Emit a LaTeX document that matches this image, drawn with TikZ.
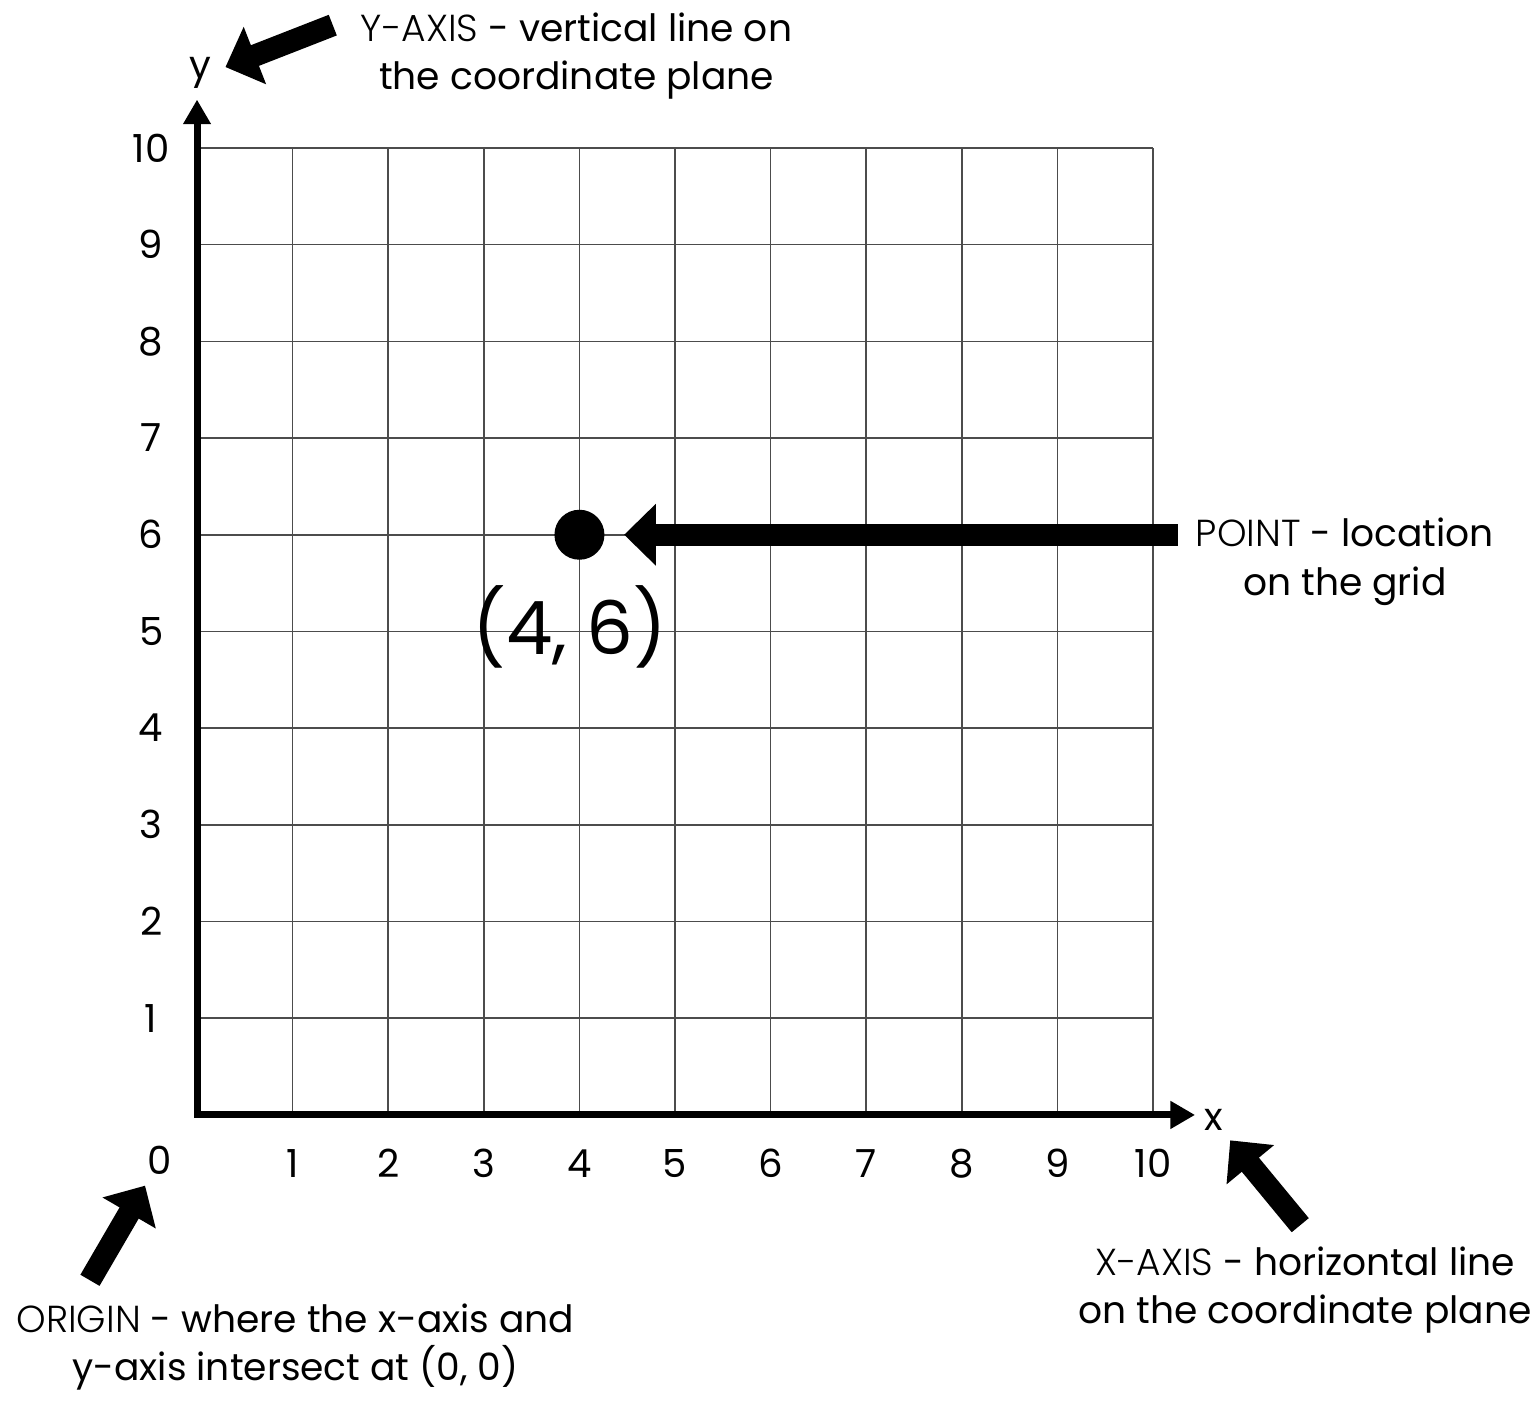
\documentclass[tikz,border=0pt]{standalone}
\usepackage{fontspec}
\setmainfont{Poppins}
\newfontfamily\kwfont{Poppins Light}
\usetikzlibrary{arrows.meta,positioning,calc}

\begin{document}
\begin{tikzpicture}[
    x=0.956cm, y=0.967cm,
    gridline/.style={draw=black!70, line width=0.45pt},
    axis/.style={draw, line width=2pt, -{Triangle[length=7pt,width=7.5pt]}},
    bigarrow/.style={draw, line width=6.3pt, -{Triangle[length=9pt,width=17pt]}},
    tick/.style={font=\fontsize{11}{13}\selectfont, inner sep=0pt},
    note/.style={font=\fontsize{10.7}{13.7}\selectfont, align=center, inner sep=0pt},
    dot/.style={circle, fill=black, minimum size=0.5cm, inner sep=0pt}
]
    \useasboundingbox (-2.061,-2.958) rectangle (14.027,11.530);

    % Grid
    \foreach \i in {1,...,10} {
        \draw[gridline] (\i,0) -- (\i,10);
        \draw[gridline] (0,\i) -- (10,\i);
    }

    % Axes
    \draw[axis] (-0.03,0) -- (10.44,0);
    \draw[axis] (0,-0.03) -- (0,10.50);
    \node[tick] (xlab) at (10.63,-0.05) {x};
    \node[tick] (ylab) at (0.03,10.78) {y};

    % Tick labels
    \node[tick] (t0) at (-0.39,-0.47) {0};
    \foreach \i in {1,...,10} {
        \node[tick] (xt\i) at (\i,-0.5) {\i};
        \node[tick] (yt\i) at (-0.48,\i) {\i};
    }

    % Point
    \node[dot] (pt) at (4,6) {};
    \node[font=\fontsize{21}{24}\selectfont, inner sep=0pt] (ptlab) at (3.90,5.05) {(4, 6)};

    % Notes
    \node[note] (ynote) at (3.97,10.95) {{\kwfont Y-AXIS} - vertical line on\\the coordinate plane};
    \node[note, anchor=west] (pnote) at (10.44,5.72) {{\kwfont POINT} - location\\on the grid};
    \node[note] (xnote) at (11.59,-1.81) {{\kwfont X-AXIS} - horizontal line\\on the coordinate plane};
    \node[note] (onote) at (1.03,-2.40) {{\kwfont ORIGIN} - where the x-axis and\\y-axis intersect at (0, 0)};

    % Pointer arrows
    \coordinate (ytail) at (1.42,11.27);
    \coordinate (xtail) at (11.54,-1.14);
    \coordinate (otail) at (-1.12,-1.71);
    \coordinate (ptail) at (10.26,6);

    \draw[bigarrow, shorten >=0.19cm] (ptail) -- (pt.east);
    \draw[bigarrow, shorten >=0.15cm] (ytail) -- (ylab.east);
    \draw[bigarrow, shorten >=0.12cm] (xtail) -- (xlab);
    \draw[bigarrow, shorten >=0.12cm] (otail) -- (t0);

\end{tikzpicture}
\end{document}
